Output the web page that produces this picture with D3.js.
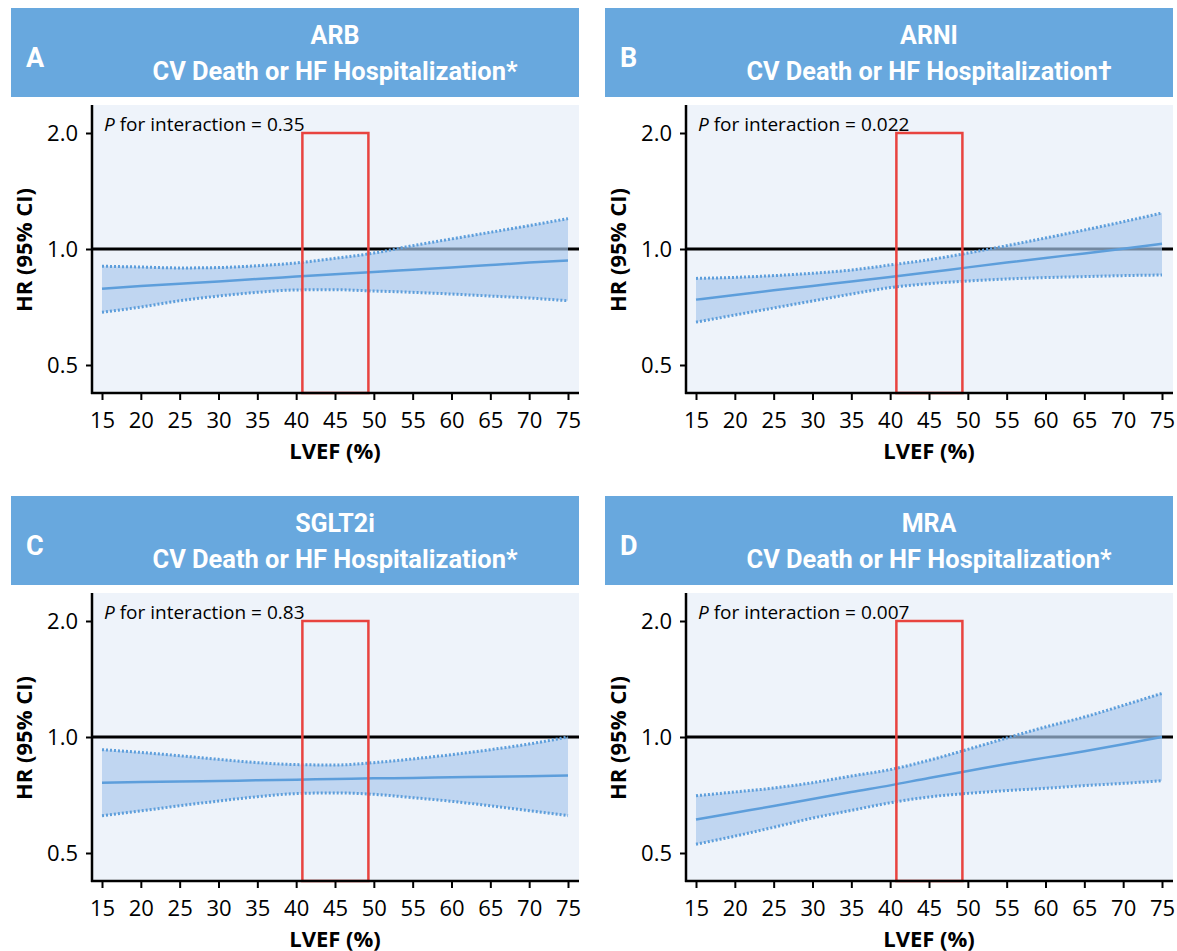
<!DOCTYPE html>
<html>
<head>
<meta charset="utf-8">
<script src="https://cdn.jsdelivr.net/npm/d3@7"></script>
<style>
  body { margin: 0; background: #fff; }
  svg { display: block; font-family: "Open Sans", sans-serif; }
</style>
</head>
<body>
<svg id="chart" width="1177" height="951"></svg>
<script>
// LVEF grid (%) and y tick values
const lvef = [15, 20, 25, 30, 35, 40, 45, 50, 55, 60, 65, 70, 75];
const hrTicks = [0.5, 1.0, 2.0];
const midRange = [40.8, 49.3]; // HFmrEF box

// A: ARB
const arbHR    = [0.789, 0.802, 0.813, 0.824, 0.836, 0.848, 0.860, 0.872, 0.884, 0.896, 0.909, 0.922, 0.934];
const arbUpper = [0.902, 0.898, 0.893, 0.895, 0.905, 0.920, 0.946, 0.976, 1.020, 1.062, 1.105, 1.150, 1.199];
const arbLower = [0.685, 0.707, 0.734, 0.755, 0.772, 0.783, 0.784, 0.778, 0.772, 0.764, 0.755, 0.746, 0.734];
// B: ARNI
const arniHR    = [0.739, 0.760, 0.781, 0.802, 0.824, 0.846, 0.870, 0.896, 0.922, 0.948, 0.974, 1.002, 1.032];
const arniUpper = [0.839, 0.844, 0.853, 0.865, 0.882, 0.909, 0.938, 0.976, 1.020, 1.068, 1.120, 1.177, 1.240];
const arniLower = [0.646, 0.674, 0.703, 0.733, 0.764, 0.794, 0.813, 0.826, 0.836, 0.843, 0.848, 0.853, 0.856];
// C: SGLT2i
const sglt2HR    = [0.761, 0.764, 0.766, 0.769, 0.772, 0.775, 0.778, 0.781, 0.783, 0.786, 0.789, 0.791, 0.794];
const sglt2Upper = [0.927, 0.912, 0.894, 0.875, 0.858, 0.848, 0.846, 0.858, 0.877, 0.900, 0.927, 0.959, 1.000];
const sglt2Lower = [0.625, 0.643, 0.663, 0.682, 0.700, 0.713, 0.716, 0.710, 0.696, 0.681, 0.663, 0.644, 0.625];
// D: MRA
const mraHR    = [0.611, 0.636, 0.662, 0.690, 0.720, 0.749, 0.783, 0.816, 0.851, 0.884, 0.918, 0.957, 1.000];
const mraUpper = [0.704, 0.720, 0.737, 0.761, 0.792, 0.823, 0.870, 0.929, 0.994, 1.062, 1.127, 1.208, 1.298];
const mraLower = [0.527, 0.553, 0.583, 0.616, 0.645, 0.675, 0.699, 0.714, 0.726, 0.736, 0.748, 0.758, 0.770];

const letters = ["A", "B", "C", "D"];
const drugs = ["ARB", "ARNI", "SGLT2i", "MRA"];
const outcomes = ["CV Death or HF Hospitalization*", "CV Death or HF Hospitalization\u2020",
                  "CV Death or HF Hospitalization*", "CV Death or HF Hospitalization*"];
const pValues = ["0.35", "0.022", "0.83", "0.007"];

const panels = [
  {hr: arbHR, lo: arbLower, hi: arbUpper, dx: 0, dy: 0},
  {hr: arniHR, lo: arniLower, hi: arniUpper, dx: 594, dy: 0},
  {hr: sglt2HR, lo: sglt2Lower, hi: sglt2Upper, dx: 0, dy: 488},
  {hr: mraHR, lo: mraLower, hi: mraUpper, dx: 594, dy: 488}
].map((p, i) => ({...p, letter: letters[i], drug: drugs[i], outcome: outcomes[i], p: pValues[i]}));

const svg = d3.select("#chart");
const blue = "#5d9edb";
const plot = {left: 92, right: 579, top: 105, bottom: 393};

const x = d3.scaleLinear().domain([15, 75]).range([102, 568]);
const y = d3.scaleLog().domain([0.5, 2]).range([365, 133]);

panels.forEach(p => {
  const g = svg.append("g").attr("transform", `translate(${p.dx},${p.dy})`);

  // header
  g.append("rect").attr("x", 11).attr("y", 8).attr("width", 568).attr("height", 89)
    .attr("fill", "#68a8de");
  g.append("text").attr("x", 26).attr("y", 67).attr("fill", "#fff")
    .style("font-family", "Roboto").style("font-weight", 700).style("font-size", "27px")
    .text(p.letter);
  g.append("text").attr("x", 335).attr("y", 44).attr("text-anchor", "middle").attr("fill", "#fff")
    .style("font-family", "Roboto").style("font-weight", 700).style("font-size", "25px")
    .text(p.drug);
  g.append("text").attr("x", 335).attr("y", 80).attr("text-anchor", "middle").attr("fill", "#fff")
    .attr("textLength", 365).attr("lengthAdjust", "spacingAndGlyphs")
    .style("font-family", "Roboto").style("font-weight", 700).style("font-size", "25px")
    .text(p.outcome);

  // plot background
  g.append("rect").attr("x", plot.left).attr("y", plot.top)
    .attr("width", plot.right - plot.left).attr("height", plot.bottom - plot.top)
    .attr("fill", "#eef3fa");

  // reference line HR = 1
  g.append("line").attr("x1", plot.left).attr("x2", plot.right)
    .attr("y1", y(1)).attr("y2", y(1))
    .attr("stroke", "#000").attr("stroke-width", 3);

  const idx = d3.range(lvef.length);
  const area = d3.area().curve(d3.curveMonotoneX)
    .x(i => x(lvef[i])).y0(i => y(p.lo[i])).y1(i => y(p.hi[i]));
  const line = arr => d3.line().curve(d3.curveMonotoneX)
    .x(i => x(lvef[i])).y(i => y(arr[i]))(idx);

  g.append("path").attr("d", area(idx)).attr("fill", "#a9c9ec").attr("fill-opacity", 0.68);
  [p.lo, p.hi].forEach(arr => {
    g.append("path").attr("d", line(arr)).attr("fill", "none")
      .attr("stroke", blue).attr("stroke-width", 3).attr("stroke-dasharray", "2,2");
  });
  g.append("path").attr("d", line(p.hr)).attr("fill", "none")
    .attr("stroke", blue).attr("stroke-width", 2.5);

  // HFmrEF box
  g.append("rect").attr("x", x(midRange[0])).attr("y", y(2))
    .attr("width", x(midRange[1]) - x(midRange[0])).attr("height", plot.bottom - y(2))
    .attr("fill", "none").attr("stroke", "#e8433f").attr("stroke-width", 2.5);

  // axes
  const yAxis = g.append("g").attr("transform", `translate(${plot.left},0)`)
    .call(d3.axisLeft(y).tickValues(hrTicks).tickFormat(d3.format(".1f")).tickSize(6).tickPadding(8));
  const xAxis = g.append("g").attr("transform", `translate(0,${plot.bottom})`)
    .call(d3.axisBottom(x).tickValues(lvef).tickSize(7).tickPadding(12));
  [yAxis, xAxis].forEach(a => {
    a.select(".domain").remove();
    a.selectAll(".tick line").attr("stroke", "#000").attr("stroke-width", 2);
    a.selectAll(".tick text").attr("fill", "#000")
      .style("font-family", "Open Sans").style("font-size", "22px");
  });
  g.append("line").attr("x1", plot.left).attr("x2", plot.left)
    .attr("y1", plot.top).attr("y2", plot.bottom + 1)
    .attr("stroke", "#000").attr("stroke-width", 2.5);
  g.append("line").attr("x1", plot.left - 1).attr("x2", plot.right)
    .attr("y1", plot.bottom).attr("y2", plot.bottom)
    .attr("stroke", "#000").attr("stroke-width", 2.5);

  g.append("text").attr("x", 335).attr("y", 459).attr("text-anchor", "middle")
    .style("font-weight", 700).style("font-size", "22px").text("LVEF (%)");
  g.append("text").attr("transform", "translate(32,250) rotate(-90)").attr("text-anchor", "middle")
    .style("font-weight", 700).style("font-size", "22px").text("HR (95% CI)");

  const pt = g.append("text").attr("x", 104).attr("y", 131).style("font-size", "19px");
  pt.append("tspan").style("font-style", "italic").text("P");
  pt.append("tspan").text(` for interaction = ${p.p}`);
});
</script>
</body>
</html>
